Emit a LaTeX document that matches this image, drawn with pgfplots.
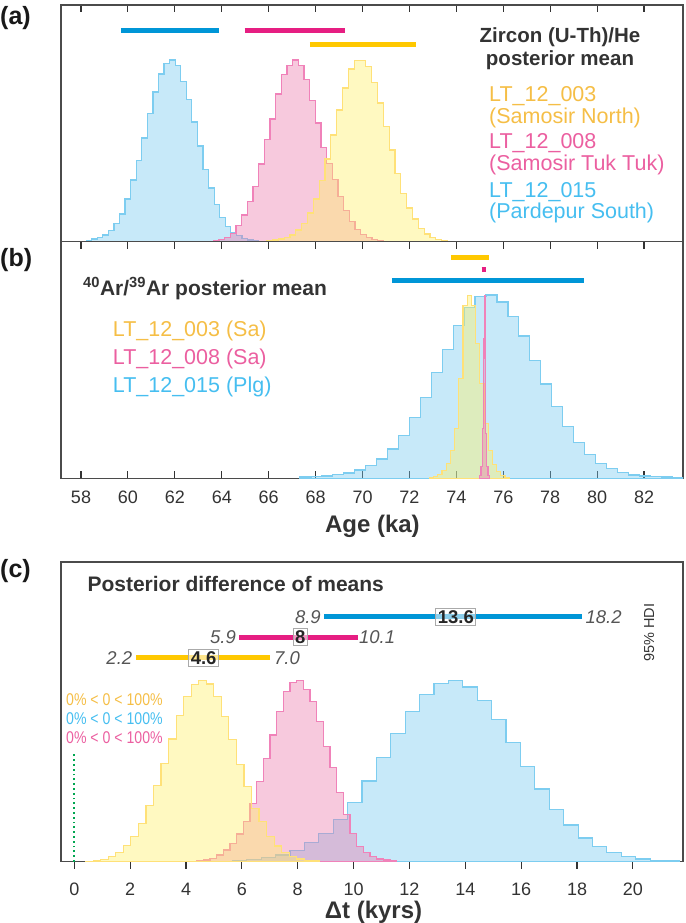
\documentclass[border=0pt]{standalone}
\usepackage{fontspec}
\setmainfont{Liberation Sans}
\newfontfamily\narrowfont{Liberation Sans}[FakeStretch=0.83]
\usepackage{pgfplots}
\usepackage{pgfplotstable}
\pgfplotsset{compat=1.18}

\definecolor{txt}{RGB}{51,51,51}
\definecolor{axc}{RGB}{75,75,75}
\definecolor{ital}{RGB}{85,85,85}
\definecolor{boxc}{RGB}{170,170,170}
\definecolor{barB}{RGB}{0,150,215}
\definecolor{barP}{RGB}{230,30,130}
\definecolor{barY}{RGB}{255,200,0}
\definecolor{fB}{RGB}{115,200,240}
\definecolor{fP}{RGB}{235,120,170}
\definecolor{fY}{RGB}{255,240,100}
\definecolor{lB}{RGB}{125,205,240}
\definecolor{lP}{RGB}{240,130,185}
\definecolor{lY}{RGB}{255,225,120}
\definecolor{tY}{RGB}{245,190,70}
\definecolor{tP}{RGB}{235,95,160}
\definecolor{tB}{RGB}{70,190,240}
\definecolor{grn}{RGB}{0,166,81}

\newcommand\fs[1]{\fontsize{#1}{#1}\selectfont}

% ---------------- data (bin left edge, height) ----------------
\pgfplotstableread{
x y
58.218 1.5
58.455 2.7
58.692 4.3
58.930 6.7
59.167 11
59.404 18.3
59.642 27.7
59.879 42.7
60.116 61.7
60.353 81
60.591 103.7
60.828 128.3
61.065 149.7
61.303 167.7
61.540 178.3
61.777 181.7
62.015 176
62.252 160.3
62.489 142.3
62.726 119.7
62.964 95.7
63.201 72
63.438 53.7
63.676 37
63.913 24.3
64.150 15.3
64.388 9.3
64.625 6
64.862 3.3
65.099 1.7
65.337 1
65.574 0
}\blueA

\pgfplotstableread{
x y
63.641 1.3
63.883 2.3
64.124 4.3
64.366 8.3
64.607 16
64.849 26.7
65.090 40.3
65.332 55.3
65.573 77.7
65.815 102
66.056 122.7
66.298 147.7
66.539 167
66.781 176
67.022 181.7
67.264 176
67.505 162
67.747 141
67.988 118.7
68.230 94.3
68.471 78
68.713 62
68.954 45
69.196 31
69.437 20
69.679 12
69.920 7
70.162 4
70.403 2
70.645 1
70.886 0
}\pinkA

\pgfplotstableread{
x y
65.914 1
66.163 1.7
66.411 2.7
66.660 4.3
66.909 6.7
67.158 11.7
67.406 18
67.655 28.7
67.904 42.7
68.152 61
68.401 82.7
68.650 106.7
68.898 131.7
69.147 153.7
69.396 172.7
69.645 181
69.893 181
70.142 175
70.391 159.3
70.639 138.7
70.888 115
71.137 91.7
71.385 68.3
71.634 48.3
71.883 33.7
72.132 22.7
72.380 13.3
72.629 7.7
72.878 4.3
73.126 2.3
73.375 1
73.624 0
}\yellowA

\pgfplotstableread{
x y
67.335 1.3
67.802 1.7
68.268 2.3
68.735 3.7
69.201 5.3
69.668 8.3
70.134 12.7
70.601 19.3
71.067 29.3
71.534 42.7
72.000 60.7
72.467 80.7
72.933 105.7
73.400 129
73.866 152.7
74.333 171
74.799 181.6
75.266 183.3
75.732 176.3
76.199 161.6
76.665 142.3
77.132 118
77.598 94.3
78.065 71.6
78.531 51.6
78.998 35.6
79.464 24
79.931 15
80.397 10
80.864 5.6
81.330 3.3
81.797 2.3
82.263 1.7
82.730 1.3
83.196 1
83.663 0
}\blueB

\pgfplotstableread{
x y
72.855 1
73.034 2
73.213 4
73.392 8
73.571 15
73.750 28
73.929 50
74.108 100
74.287 173
74.466 183
74.645 173
74.824 135
75.003 95
75.182 55
75.361 28
75.540 14
75.719 7
75.898 3
76.077 1
76.256 0
}\yellowB

\pgfplotstableread{
x y
74.987 3
75.051 12
75.106 50
75.149 140
75.192 183
75.221 120
75.255 45
75.298 12
75.349 3
75.413 0
}\pinkB

\pgfplotstableread{
x y
0.407 0.4
0.677 1
0.947 2.4
1.217 5
1.487 9.4
1.757 16
2.026 25
2.296 38.4
2.566 56
2.836 76
3.106 98.4
3.376 122.7
3.646 146
3.916 165
4.186 177.4
4.456 181
4.726 177.7
4.995 165
5.265 145
5.535 122.4
5.805 97.4
6.075 75
6.345 53.4
6.615 40
6.885 25
7.155 15.7
7.425 9
7.694 5
7.964 2.7
8.234 1.4
8.504 0.7
8.774 0
}\yellowC

\pgfplotstableread{
x y
4.381 1
4.620 1.7
4.859 3.4
5.097 6.7
5.336 11.7
5.575 18.4
5.814 27.7
6.052 40
6.291 58.4
6.530 80
6.768 103.4
7.007 126.7
7.246 150
7.485 170
7.723 179
7.962 181
8.201 172.4
8.439 160
8.678 140
8.917 115
9.155 94
9.394 69.4
9.633 47
9.872 28
10.110 15
10.349 9
10.588 5
10.826 2.7
11.065 1.7
11.304 0.7
11.542 0
}\pinkC

\pgfplotstableread{
x y
5.663 1
6.179 2
6.694 4
7.210 6.7
7.726 11
8.241 19.4
8.757 28.4
9.272 42.4
9.788 59.4
10.304 80.7
10.819 104
11.335 128.4
11.850 150
12.366 167.4
12.882 178.4
13.397 181
13.913 174.7
14.428 161.4
14.944 142.4
15.460 119
15.975 95.4
16.491 72.7
17.006 52.4
17.522 36.7
18.038 23.7
18.553 15
19.069 9
19.584 5
20.100 2.7
20.616 1.4
21.131 0.7
21.647 0
}\blueC

\pgfplotsset{
  basepanel/.style={scale only axis, width=622pt, ymin=0, ytick=\empty,
    axis line style={draw=axc, line width=1.4pt},
    tick style={draw=txt, line width=1.1pt}, major tick length=7pt,
    /pgf/number format/assume math mode=true,
    xticklabel style={font=\fs{18}, text=txt, anchor=base},
    clip=true},
  ageax/.style={basepanel, xmin=57.147, xmax=83.662, xtick={58,60,...,82}, tick align=inside},
  hist/.style={const plot mark left, line width=1.2pt, line join=miter, mark=none},
  hB/.style={hist, draw=lB, fill=fB, fill opacity=0.4},
  hP/.style={hist, draw=lP, fill=fP, fill opacity=0.4},
  hY/.style={hist, draw=lY, fill=fY, fill opacity=0.4},
  hdi/.style={line width=5pt, line cap=butt, mark=none},
}

\begin{document}
\begin{tikzpicture}
\path[use as bounding box] (0pt,0pt) rectangle (685pt,-923pt);

% ---------------- panel (a) ----------------
\begin{axis}[ageax, at={(61pt,-5pt)}, anchor=north west, height=236.7pt, ymax=236.7,
  xtick pos=top, xticklabels={}]
\addplot[hB] table[x=x,y=y]{\blueA} \closedcycle;
\addplot[hP] table[x=x,y=y]{\pinkA} \closedcycle;
\addplot[hY] table[x=x,y=y]{\yellowA} \closedcycle;
\addplot[hdi, barB] coordinates {(59.70,211) (63.90,211)};
\addplot[hdi, barP] coordinates {(64.97,211) (69.25,211)};
\addplot[hdi, barY] coordinates {(67.76,197.4) (72.28,197.4)};
\end{axis}

% ---------------- panel (b) ----------------
\begin{axis}[ageax, at={(61pt,-241.7pt)}, anchor=north west, height=236.6pt, ymax=236.6,
  xtick pos=both, xticklabel style={yshift=-25pt}]
\addplot[hB] table[x=x,y=y]{\blueB} \closedcycle;
\addplot[hY] table[x=x,y=y]{\yellowB} \closedcycle;
\addplot[hP] table[x=x,y=y]{\pinkB} \closedcycle;
\addplot[hdi, barY] coordinates {(73.77,220.6) (75.39,220.6)};
\addplot[hdi, barP] coordinates {(75.08,209.3) (75.26,209.3)};
\addplot[hdi, barB] coordinates {(71.25,198.3) (79.46,198.3)};
\end{axis}

% ---------------- panel (c) ----------------
\begin{axis}[basepanel, at={(61pt,-562pt)}, anchor=north west, height=299.7pt, ymax=299.7,
  xmin=-0.476, xmax=21.794, xtick={0,2,...,20}, tick align=outside, xtick pos=bottom,
  xticklabel style={yshift=-26.6pt}]
\addplot[hB] table[x=x,y=y]{\blueC} \closedcycle;
\addplot[hP] table[x=x,y=y]{\pinkC} \closedcycle;
\addplot[hY] table[x=x,y=y]{\yellowC} \closedcycle;
\addplot[grn, line width=1.8pt, dash pattern=on 1.8pt off 3pt] coordinates {(0,0) (0,110)};
\addplot[hdi, barB] coordinates {(8.95,245) (18.19,245)};
\addplot[hdi, barP] coordinates {(5.91,224.4) (10.14,224.4)};
\addplot[hdi, barY] coordinates {(2.22,204) (6.99,204)};
\node[anchor=east, inner sep=0, font=\itshape\fs{18.5}, text=ital] at (axis cs:8.83,245) {8.9};
\node[anchor=west, inner sep=0, font=\itshape\fs{18.5}, text=ital] at (axis cs:18.30,245) {18.2};
\node[anchor=east, inner sep=0, font=\itshape\fs{18.5}, text=ital] at (axis cs:5.79,224.4) {5.9};
\node[anchor=west, inner sep=0, font=\itshape\fs{18.5}, text=ital] at (axis cs:10.19,224.4) {10.1};
\node[anchor=east, inner sep=0, font=\itshape\fs{18.5}, text=ital] at (axis cs:2.08,204) {2.2};
\node[anchor=west, inner sep=0, font=\itshape\fs{18.5}, text=ital] at (axis cs:7.15,204) {7.0};
\node[draw=boxc, line width=0.8pt, fill=white, fill opacity=0.55, text opacity=1, inner sep=2pt,
  font=\bfseries\fs{18.5}, text=black!85] at (axis cs:13.66,245) {13.6};
\node[draw=boxc, line width=0.8pt, fill=white, fill opacity=0.55, text opacity=1, inner sep=2pt,
  font=\bfseries\fs{18.5}, text=black!85] at (axis cs:8.09,224.4) {8};
\node[draw=boxc, line width=0.8pt, fill=white, fill opacity=0.55, text opacity=1, inner sep=2pt,
  font=\bfseries\fs{18.5}, text=black!85] at (axis cs:4.63,204) {4.6};
\end{axis}

% ---------------- texts ----------------
\node[anchor=base west, inner sep=0, font=\bfseries\fs{25}, text=black!90] at (0pt,-25pt) {(a)};
\node[anchor=base west, inner sep=0, font=\bfseries\fs{25}, text=black!90] at (0pt,-266pt) {(b)};
\node[anchor=base west, inner sep=0, font=\bfseries\fs{25}, text=black!90] at (0pt,-577pt) {(c)};

\node[anchor=base, inner sep=0, font=\bfseries\fs{20.5}, text=txt] at (560pt,-42.7pt) {Zircon (U-Th)/He};
\node[anchor=base, inner sep=0, font=\bfseries\fs{20.5}, text=txt] at (560pt,-66pt) {posterior mean};
\node[anchor=base west, inner sep=0, font=\fs{21.5}, text=tY] at (489pt,-101.7pt) {LT\_12\_003};
\node[anchor=base west, inner sep=0, font=\fs{21.5}, text=tY] at (489pt,-123.3pt) {(Samosir North)};
\node[anchor=base west, inner sep=0, font=\fs{21.5}, text=tP] at (489pt,-148.3pt) {LT\_12\_008};
\node[anchor=base west, inner sep=0, font=\fs{21.5}, text=tP] at (489pt,-170pt) {(Samosir Tuk Tuk)};
\node[anchor=base west, inner sep=0, font=\fs{21.5}, text=tB] at (489pt,-197.3pt) {LT\_12\_015};
\node[anchor=base west, inner sep=0, font=\fs{21.5}, text=tB] at (489pt,-218.3pt) {(Pardepur South)};

\node[anchor=base west, inner sep=0, font=\bfseries\fs{21}, text=txt] at (83pt,-295pt)
  {\textsuperscript{40}Ar/\textsuperscript{39}Ar posterior mean};
\node[anchor=base west, inner sep=0, font=\fs{21.5}, text=tY] at (112.7pt,-336pt) {LT\_12\_003 (Sa)};
\node[anchor=base west, inner sep=0, font=\fs{21.5}, text=tP] at (112.7pt,-364.3pt) {LT\_12\_008 (Sa)};
\node[anchor=base west, inner sep=0, font=\fs{21.5}, text=tB] at (112.7pt,-392.7pt) {LT\_12\_015 (Plg)};

\node[anchor=base, inner sep=0, font=\bfseries\fs{24}, text=txt] at (372.4pt,-532pt) {Age (ka)};

\node[anchor=base west, inner sep=0, font=\bfseries\fs{21}, text=txt] at (87.3pt,-591.7pt) {Posterior difference of means};
\node[anchor=base west, inner sep=0, font=\narrowfont\fs{17}, text=tY] at (66pt,-705pt) {0\% < 0 < 100\%};
\node[anchor=base west, inner sep=0, font=\narrowfont\fs{17}, text=tB] at (66pt,-724pt) {0\% < 0 < 100\%};
\node[anchor=base west, inner sep=0, font=\narrowfont\fs{17}, text=tP] at (66pt,-743.3pt) {0\% < 0 < 100\%};
\node[rotate=90, inner sep=0, font=\fs{14.5}, text=txt] at (649pt,-632.5pt) {95\% HDI};

\node[anchor=base, inner sep=0, font=\bfseries\fs{24}, text=txt] at (373.5pt,-918pt) {Δt (kyrs)};
\end{tikzpicture}
\end{document}
